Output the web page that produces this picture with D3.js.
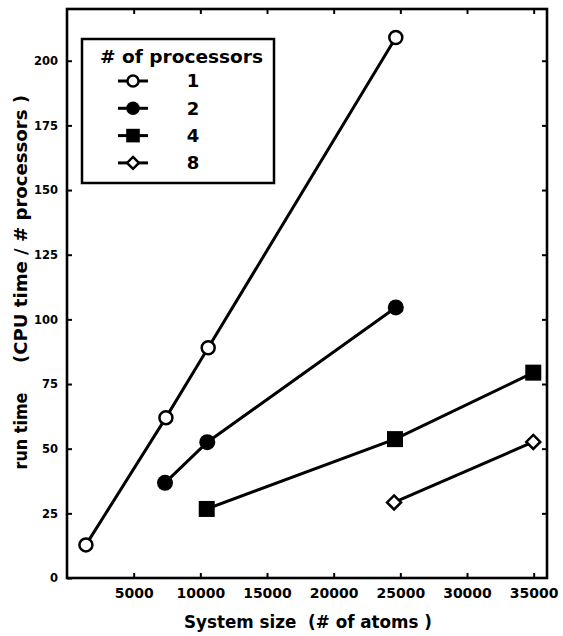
<!doctype html>
<html lang="en">
<head>
  <meta charset="UTF-8">
  <title>run time vs system size</title>
  <script src="https://d3js.org/d3.v7.min.js"></script>
  <style>
    body { margin: 0; background: #fff; }
    text { font-family: "DejaVu Sans", sans-serif; font-weight: bold; fill: #000; }
  </style>
</head>
<body>
<div id="myDiv"></div>

<script type="text/javascript">
  // values
  const processors = ["1", "2", "4", "8"];
  const atoms1 = [1420, 7420, 10590, 24660];
  const run1 = [12.8, 62, 89, 209];
  const atoms2 = [7350, 10520, 24660];
  const run2 = [36.8, 52.5, 104.6];
  const atoms4 = [10480, 24600, 34970];
  const run4 = [26.7, 53.7, 79.4];
  const atoms8 = [24530, 34970];
  const run8 = [29.2, 52.6];

  const xTicks = [5000, 10000, 15000, 20000, 25000, 30000, 35000];
  const yTicks = [0, 25, 50, 75, 100, 125, 150, 175, 200];

  const markers = ["openCircle", "filledCircle", "square", "openDiamond"];

  const series = [
    { name: processors[0], xs: atoms1, ys: run1, marker: markers[0] },
    { name: processors[1], xs: atoms2, ys: run2, marker: markers[1] },
    { name: processors[2], xs: atoms4, ys: run4, marker: markers[2] },
    { name: processors[3], xs: atoms8, ys: run8, marker: markers[3] }
  ];

  const width = 563, height = 636;
  const plotL = 67, plotR = 547, plotT = 9, plotB = 578;

  const svg = d3.select("#myDiv").append("svg")
    .attr("width", width)
    .attr("height", height);

  const x = d3.scaleLinear().domain([0, 36000]).range([plotL, plotR]);
  const y = d3.scaleLinear().domain([0, 220]).range([plotB, plotT]);

  // axes, ticks pointing into the plot
  svg.append("g")
    .attr("transform", "translate(0," + plotB + ")")
    .call(d3.axisBottom(x).tickValues(xTicks).tickSize(-5).tickPadding(10).tickFormat(d3.format("d")))
    .call(g => g.select(".domain").remove())
    .call(g => g.selectAll("line").attr("stroke-width", 2))
    .call(g => g.selectAll("text").attr("font-size", 14).attr("font-family", null));

  svg.append("g")
    .attr("transform", "translate(" + plotL + ",0)")
    .call(d3.axisLeft(y).tickValues(yTicks).tickSize(-5).tickPadding(9))
    .call(g => g.select(".domain").remove())
    .call(g => g.selectAll("line").attr("stroke-width", 2))
    .call(g => g.selectAll("text").attr("font-size", 11.5).attr("font-family", null));

  svg.append("g")
    .attr("transform", "translate(0," + plotT + ")")
    .call(d3.axisTop(x).tickValues(xTicks).tickSize(-5).tickFormat(""))
    .call(g => g.select(".domain").remove())
    .call(g => g.selectAll("line").attr("stroke-width", 2));

  svg.append("g")
    .attr("transform", "translate(" + plotR + ",0)")
    .call(d3.axisRight(y).tickValues(yTicks.slice(1)).tickSize(-5).tickFormat(""))
    .call(g => g.select(".domain").remove())
    .call(g => g.selectAll("line").attr("stroke-width", 2));

  // frame
  svg.append("rect")
    .attr("x", plotL).attr("y", plotT)
    .attr("width", plotR - plotL).attr("height", plotB - plotT)
    .attr("fill", "none").attr("stroke", "#000").attr("stroke-width", 2.6);

  function drawMarker(g, type, cx, cy, s) {
    if (type === "openCircle") {
      g.append("circle").attr("cx", cx).attr("cy", cy).attr("r", 6.5 * s)
        .attr("fill", "#fff").attr("stroke", "#000").attr("stroke-width", 2.5);
    } else if (type === "filledCircle") {
      g.append("circle").attr("cx", cx).attr("cy", cy).attr("r", 8 * s).attr("fill", "#000");
    } else if (type === "square") {
      g.append("rect").attr("x", cx - 8 * s).attr("y", cy - 8 * s)
        .attr("width", 16 * s).attr("height", 16 * s).attr("fill", "#000");
    } else {
      const h = 7 * s;
      g.append("path")
        .attr("d", "M" + cx + "," + (cy - h) + "L" + (cx + h) + "," + cy + "L" + cx + "," + (cy + h) + "L" + (cx - h) + "," + cy + "Z")
        .attr("fill", "#fff").attr("stroke", "#000").attr("stroke-width", 2.5);
    }
  }

  const line = d3.line().x(d => x(d[0])).y(d => y(d[1]));

  series.forEach(function(s) {
    const pts = s.xs.map((v, i) => [v, s.ys[i]]);
    svg.append("path")
      .attr("d", line(pts))
      .attr("fill", "none").attr("stroke", "#000").attr("stroke-width", 3);
    const g = svg.append("g");
    pts.forEach(p => drawMarker(g, s.marker, x(p[0]), y(p[1]), 1));
  });

  // legend
  svg.append("rect")
    .attr("x", 82).attr("y", 39).attr("width", 192).attr("height", 144)
    .attr("fill", "#fff").attr("stroke", "#000").attr("stroke-width", 2.5);
  svg.append("text")
    .attr("x", 100).attr("y", 63)
    .attr("font-size", 18)
    .attr("textLength", 163).attr("lengthAdjust", "spacingAndGlyphs")
    .text("# of processors");

  series.forEach(function(s, i) {
    const ry = 81 + i * 27.3;
    svg.append("line")
      .attr("x1", 118).attr("x2", 148).attr("y1", ry).attr("y2", ry)
      .attr("stroke", "#000").attr("stroke-width", 3);
    drawMarker(svg, s.marker, 133, ry, 0.85);
    svg.append("text")
      .attr("x", 193).attr("y", ry)
      .attr("dy", "0.36em")
      .attr("text-anchor", "middle")
      .attr("font-size", 18)
      .text(s.name);
  });

  // axis titles
  svg.append("text")
    .attr("x", 308).attr("y", 628)
    .attr("text-anchor", "middle")
    .attr("font-size", 17)
    .attr("textLength", 248).attr("lengthAdjust", "spacingAndGlyphs")
    .style("white-space", "pre")
    .text("System size  (# of atoms )");

  svg.append("text")
    .attr("transform", "translate(27,431) rotate(-90)")
    .attr("text-anchor", "middle")
    .attr("font-size", 17)
    .attr("textLength", 77).attr("lengthAdjust", "spacingAndGlyphs")
    .text("run time");

  svg.append("text")
    .attr("transform", "translate(27,229) rotate(-90)")
    .attr("text-anchor", "middle")
    .attr("font-size", 17)
    .attr("textLength", 268).attr("lengthAdjust", "spacingAndGlyphs")
    .text("(CPU time / # processors )");
</script>
</body>
</html>
